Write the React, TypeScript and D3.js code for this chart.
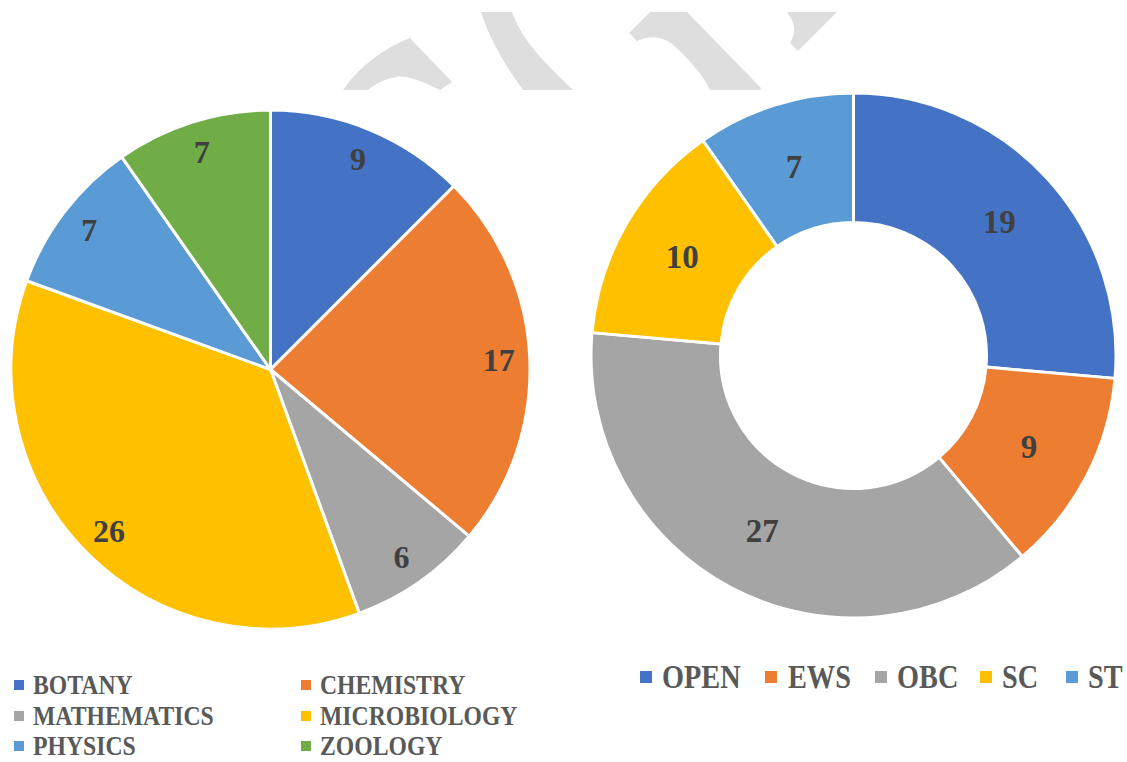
import React from "react";
import * as d3 from "d3";

const subjects = ["BOTANY", "CHEMISTRY", "MATHEMATICS", "MICROBIOLOGY", "PHYSICS", "ZOOLOGY"];
const subjectValues = [9, 17, 6, 26, 7, 7];
const subjectColors = ["#4472C4", "#ED7D31", "#A5A5A5", "#FFC000", "#5B9BD5", "#70AD47"];

const categories = ["OPEN", "EWS", "OBC", "SC", "ST"];
const categoryValues = [19, 9, 27, 10, 7];
const categoryColors = ["#4472C4", "#ED7D31", "#A5A5A5", "#FFC000", "#5B9BD5"];

const FONT = "'Liberation Serif', 'DejaVu Serif', serif";
const LABEL = "#404040";
const LEGEND = "#595959";

const watermarkPaths = [
  "M343,90 C360,65 385,48 410,38 L452,82 L440,90 C420,80 405,75 396,77 C385,79 375,84 368,90 Z",
  "M481,12 L512,12 C520,35 536,55 573,90 L523,90 C505,65 490,40 481,12 Z",
  "M650,12 L687,12 L761,88 L760,90 L710,90 C703,75 690,60 672,44 C660,35 648,36 637,41 L629,33 Z",
  "M787,12 L837,12 L798,51 L790,43 C795,35 797,25 787,12 Z",
];

export default function App() {
  const pie = d3.pie<number>().sort(null).value((d) => d);

  // left pie
  const lcx = 270.5, lcy = 369.5, lr = 259.5;
  const leftArcs = pie(subjectValues);
  const leftArc = d3.arc<d3.PieArcDatum<number>>().innerRadius(0).outerRadius(lr);
  const leftLabelArc = d3.arc<d3.PieArcDatum<number>>().innerRadius(lr * 0.88).outerRadius(lr * 0.88);

  // right donut
  const rcx = 853.5, rcy = 355.5, rr = 262.5, rin = 133;
  const rightArcs = pie(categoryValues);
  const rightArc = d3.arc<d3.PieArcDatum<number>>().innerRadius(rin).outerRadius(rr);
  const rightLabelArc = d3.arc<d3.PieArcDatum<number>>().innerRadius((rin + rr) / 2).outerRadius((rin + rr) / 2);

  const leftLegendX = [14, 301];
  const leftLegendTextX = [33, 320];
  const leftLegendY = [685, 716, 746];

  const rightMarkerX = [640, 765, 875, 980, 1066];
  const rightTextX = [662, 788, 897, 1002, 1088];
  const rightLegendY = 677;

  return (
    <svg
      width={1127}
      height={762}
      style={{ position: "absolute", left: 0, top: 0, background: "#fff" }}
    >
      <rect x={0} y={0} width={1127} height={762} fill="#fff" />
      <g fill="#DEDEDE">
        {watermarkPaths.map((p, i) => (
          <path key={i} d={p} />
        ))}
      </g>

      <g transform={`translate(${lcx},${lcy})`}>
        {leftArcs.map((a, i) => (
          <path key={i} d={leftArc(a) || ""} fill={subjectColors[i]} stroke="#fff" strokeWidth={3} strokeLinejoin="round" />
        ))}
        {leftArcs.map((a, i) => {
          const [x, y] = leftLabelArc.centroid(a);
          return (
            <text key={i} x={x} y={y} textAnchor="middle" dominantBaseline="central" fontFamily={FONT} fontWeight="bold" fontSize={32} fill={LABEL}>
              {subjectValues[i]}
            </text>
          );
        })}
      </g>

      <g transform={`translate(${rcx},${rcy})`}>
        {rightArcs.map((a, i) => (
          <path key={i} d={rightArc(a) || ""} fill={categoryColors[i]} stroke="#fff" strokeWidth={3} strokeLinejoin="round" />
        ))}
        {rightArcs.map((a, i) => {
          const [x, y] = rightLabelArc.centroid(a);
          return (
            <text key={i} x={x} y={y} textAnchor="middle" dominantBaseline="central" fontFamily={FONT} fontWeight="bold" fontSize={33} fill={LABEL}>
              {categoryValues[i]}
            </text>
          );
        })}
      </g>

      <g>
        {subjects.map((s, i) => {
          const col = i % 2;
          const row = Math.floor(i / 2);
          return (
            <g key={s}>
              <rect x={leftLegendX[col]} y={leftLegendY[row] - 5} width={10} height={10} fill={subjectColors[i]} />
              <text
                transform={`translate(${leftLegendTextX[col]},${leftLegendY[row]}) scale(1,1.12)`}
                dominantBaseline="central"
                fontFamily={FONT}
                fontWeight="bold"
                fontSize={23.7}
                fill={LEGEND}
              >
                {s}
              </text>
            </g>
          );
        })}
      </g>

      <g>
        {categories.map((c, i) => (
          <g key={c}>
            <rect x={rightMarkerX[i]} y={rightLegendY - 6} width={12} height={12} fill={categoryColors[i]} />
            <text
              transform={`translate(${rightTextX[i]},${rightLegendY}) scale(1,1.2)`}
              dominantBaseline="central"
              fontFamily={FONT}
              fontWeight="bold"
              fontSize={28.3}
              fill={LEGEND}
            >
              {c}
            </text>
          </g>
        ))}
      </g>
    </svg>
  );
}
